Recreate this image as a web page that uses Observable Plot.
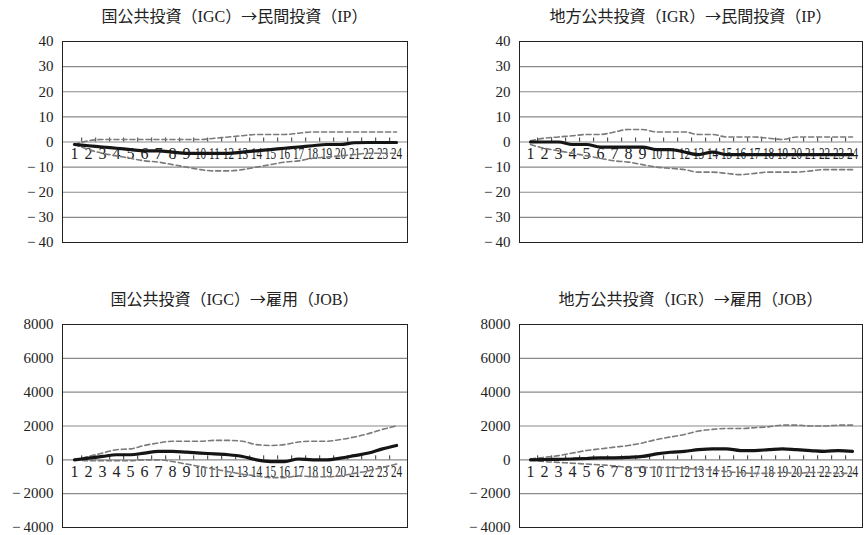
<!DOCTYPE html>
<html>
<head>
<meta charset="utf-8">
<script src="https://cdn.jsdelivr.net/npm/d3@7"></script>
<script src="https://cdn.jsdelivr.net/npm/@observablehq/plot@0.6"></script>
<style>
  html, body { margin: 0; padding: 0; background: #fff; }
  #root { position: relative; width: 864px; height: 535px; background: #fff; overflow: hidden; }
  .title { position: absolute; text-align: center; font-family: "Liberation Serif", "Noto Sans CJK JP", serif; font-size: 16px; line-height: 18px; color: #222; white-space: nowrap; }
  .title .arrow { font-family: "Noto Sans CJK JP", sans-serif; }
  .panel { position: absolute; }
  .panel svg text { font-family: "Liberation Serif", serif !important; }
</style>
</head>
<body>
<div id="root"></div>
<script>
// Categories (periods)
const categories = [1,2,3,4,5,6,7,8,9,10,11,12,13,14,15,16,17,18,19,20,21,22,23,24];

// Tick labels
const ipTicks = [-40,-30,-20,-10,0,10,20,30,40];
const jobTicks = [-4000,-2000,0,2000,4000,6000,8000];

// Titles: [before arrow, after arrow]
const titles = [
  ["国公共投資（IGC）", "民間投資（IP）"],
  ["地方公共投資（IGR）", "民間投資（IP）"],
  ["国公共投資（IGC）", "雇用（JOB）"],
  ["地方公共投資（IGR）", "雇用（JOB）"]
];

// IGC -> IP
const ipIgcMid = [-1,-1.5,-2,-2.5,-3,-3.5,-3.5,-4,-4.5,-4.5,-4.5,-4.5,-4,-3.5,-3,-2.5,-2,-1.5,-1,-1,-0.3,-0.2,-0.2,-0.2];
const ipIgcUp  = [-1,0.5,1,1,1,1,1,1,1,1,1.5,2,2.5,3,3,3,3.5,4,4,4,4,4,4,4];
const ipIgcLo  = [-1,-3,-4.5,-5.5,-6.5,-7.5,-8,-9,-10,-11,-11.5,-11.5,-11,-10,-9,-8,-7.5,-6.5,-6,-5.5,-5,-4.5,-4.5,-4.5];

// IGR -> IP
const ipIgrMid = [0,0,0,-1,-1,-2,-2,-2,-2,-3,-3,-4,-5,-4,-5,-5,-5,-5,-5,-5,-5,-5,-5,-5];
const ipIgrUp  = [0.5,1.5,2,2.5,3,3,4,5,5,4,4,4,3,3,2,2,2,1.5,1,2,2,2,2,2];
const ipIgrLo  = [-1,-2.5,-3.5,-4.5,-5.5,-6.5,-7.5,-8,-9,-10,-10.5,-11,-12,-12,-12.5,-13,-12.5,-12,-12,-12,-11.5,-11,-11,-11];

// IGC -> JOB
const jobIgcMid = [0,100,200,300,300,400,500,500,450,400,350,300,200,0,-100,-100,50,0,0,100,250,400,650,850];
const jobIgcUp  = [0,200,400,600,650,850,1000,1100,1100,1100,1150,1150,1100,900,850,900,1050,1100,1100,1200,1350,1550,1800,2000];
const jobIgcLo  = [0,-50,-50,-50,-50,0,0,-100,-250,-400,-550,-700,-850,-950,-1050,-1050,-950,-1000,-1000,-950,-800,-650,-450,-250];

// IGR -> JOB
const jobIgrMid = [0,20,30,50,80,120,120,150,200,350,450,500,600,650,650,550,550,600,650,600,550,500,550,500];
const jobIgrUp  = [50,150,250,400,550,650,750,850,1000,1200,1350,1500,1700,1800,1850,1850,1900,1950,2050,2050,2000,2000,2050,2050];
const jobIgrLo  = [0,-100,-150,-200,-250,-300,-350,-450,-450,-450,-450,-500,-550,-600,-700,-750,-800,-800,-750,-800,-750,-750,-800,-800];

const SERIF = "'Liberation Serif', serif";
const fmt = d => d < 0 ? "\u2212\u2009" + Math.abs(d) : String(d);
const root = document.getElementById("root");

function panel(o) {
  const rows = arr => categories.map((c, i) => ({c, v: arr[i]}));
  const step = (o.width - o.mL - o.mR) / categories.length;
  const svg = Plot.plot({
    width: o.width, height: o.height,
    marginLeft: o.mL, marginRight: o.mR, marginTop: o.mT, marginBottom: o.mB,
    style: {fontFamily: SERIF, fontSize: "15px", color: "#222", background: "transparent", overflow: "visible"},
    x: {type: "point", domain: categories, padding: 0.5, axis: null},
    y: {domain: [o.ticks[0], o.ticks[o.ticks.length - 1]], axis: null},
    marks: [
      Plot.ruleY(o.ticks, {stroke: "#8a8a8a", strokeWidth: 1.2}),
      Plot.ruleX(categories.slice(0, -1), {x: d => d, y1: 0, y2: 0, insetTop: -4, dx: step / 2, stroke: "#333", strokeWidth: 1}),
      Plot.axisY(o.ticks, {tickSize: 0, tickPadding: 9, tickFormat: fmt, fontSize: 15, fontFamily: SERIF, fill: "#222", label: null}),
      Plot.text(categories, {x: d => d, y: 0, dy: 12, text: d => String(d), fontSize: 16, fontFamily: SERIF, fill: "#222"}),
      Plot.line(rows(o.up), {x: "c", y: "v", stroke: "#7a7a7a", strokeWidth: 1.6, strokeDasharray: "5,3", curve: "monotone-x"}),
      Plot.line(rows(o.lo), {x: "c", y: "v", stroke: "#7a7a7a", strokeWidth: 1.6, strokeDasharray: "5,3", curve: "monotone-x"}),
      Plot.line(rows(o.mid), {x: "c", y: "v", stroke: "#151515", strokeWidth: 3.2, curve: "monotone-x"}),
      Plot.frame({stroke: "#222", strokeWidth: 1})
    ]
  });
  // condense two-digit category labels horizontally, like the original
  svg.querySelectorAll('g[aria-label="text"] text').forEach(t => {
    if (t.textContent.length === 2) {
      let tr = t.getAttribute("transform");
      if (!tr) {
        const x = t.getAttribute("x") || 0, y = t.getAttribute("y") || 0;
        t.removeAttribute("x"); t.removeAttribute("y");
        tr = `translate(${x},${y})`;
      }
      t.setAttribute("transform", tr + " scale(0.7,1)");
    }
  });
  const wrap = document.createElement("div");
  wrap.className = "panel";
  wrap.style.left = o.left + "px";
  wrap.style.top = o.top + "px";
  wrap.appendChild(svg);
  root.appendChild(wrap);

  const t = document.createElement("div");
  t.className = "title";
  const a = document.createElement("span"); a.textContent = o.title[0];
  const ar = document.createElement("span"); ar.className = "arrow"; ar.textContent = "→";
  const b = document.createElement("span"); b.textContent = o.title[1];
  t.append(a, ar, b);
  t.style.left = (o.left + o.mL) + "px";
  t.style.width = (o.width - o.mL - o.mR) + "px";
  t.style.top = o.titleTop + "px";
  root.appendChild(t);
}

const L = {left: 0, width: 420, mL: 62, mR: 13};
const R = {left: 432, width: 432, mL: 87, mR: 2};
const T = {top: 30, height: 225, mT: 11, mB: 13, titleTop: 6};
const B = {top: 313, height: 222, mT: 11, mB: 8, titleTop: 289};

panel({...L, ...T, ticks: ipTicks, mid: ipIgcMid, up: ipIgcUp, lo: ipIgcLo, title: titles[0]});
panel({...R, ...T, ticks: ipTicks, mid: ipIgrMid, up: ipIgrUp, lo: ipIgrLo, title: titles[1]});
panel({...L, ...B, ticks: jobTicks, mid: jobIgcMid, up: jobIgcUp, lo: jobIgcLo, title: titles[2]});
panel({...R, ...B, ticks: jobTicks, mid: jobIgrMid, up: jobIgrUp, lo: jobIgrLo, title: titles[3]});
</script>
</body>
</html>
